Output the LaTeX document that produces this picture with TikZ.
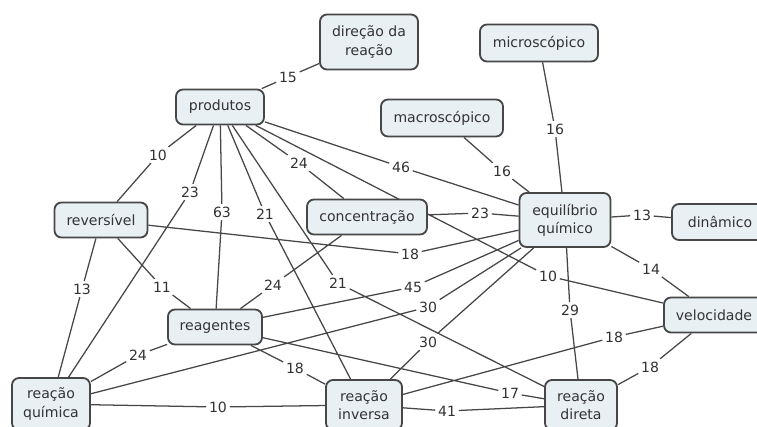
\documentclass[tikz,border=0pt]{standalone}
\usepackage{fontspec}
\setmainfont{DejaVu Sans}
\usepackage{xcolor}
\usepackage{tikz}
\usetikzlibrary{backgrounds}

\definecolor{boxfill}{HTML}{E9F0F4}
\definecolor{boxline}{HTML}{474747}
\definecolor{ink}{HTML}{333333}

\begin{document}
\begin{tikzpicture}[x=0.025cm, y=-0.025cm,
  concept/.style={rectangle, rounded corners=5pt, draw=boxline, line width=1.3pt,
    fill=boxfill, text=ink, align=center, inner sep=0pt,
    font=\fontsize{10}{13}\selectfont},
  link/.style={fill=white, text=ink, inner sep=1.8pt, font=\fontsize{10}{12}\selectfont},
  edge/.style={draw=boxline, line width=0.9pt}]
  \useasboundingbox (0,0) rectangle (757,427);
  \clip (0,0) rectangle (757,427);

  % concepts
  \node[concept, minimum width=2.45cm, minimum height=1.375cm] (dir) at (369,42) {direção da\\reação};
  \node[concept, minimum width=2.95cm, minimum height=0.925cm] (micro) at (539,43) {microscópico};
  \node[concept, minimum width=2.2cm, minimum height=0.875cm] (prod) at (220,107) {produtos};
  \node[concept, minimum width=3.05cm, minimum height=0.925cm] (macro) at (442,118) {macroscópico};
  \node[concept, minimum width=2.325cm, minimum height=0.875cm] (rev) at (101,220) {reversível};
  \node[concept, minimum width=3.0cm, minimum height=0.875cm] (conc) at (367,217) {concentração};
  \node[concept, minimum width=2.275cm, minimum height=1.35cm] (eq) at (565,220) {equilíbrio\\químico};
  \node[concept, minimum width=2.4cm, minimum height=0.9cm] (din) at (720,222) {dinâmico};
  \node[concept, minimum width=2.5cm, minimum height=0.875cm] (vel) at (714,315) {velocidade};
  \node[concept, minimum width=2.35cm, minimum height=0.875cm] (reag) at (215,327) {reagentes};
  \node[concept, minimum width=1.95cm, minimum height=1.3cm] (rq) at (51,404) {reação\\química};
  \node[concept, minimum width=1.9cm, minimum height=1.25cm] (ri) at (364,405) {reação\\inversa};
  \node[concept, minimum width=1.8cm, minimum height=1.25cm] (rd) at (581,405) {reação\\direta};

  % linking numbers
  \node[link] (n15) at (288,77) {15};
  \node[link] (n10a) at (158,155) {10};
  \node[link] (n23a) at (190,192) {23};
  \node[link] (n63) at (222,212) {63};
  \node[link] (n21a) at (265,214) {21};
  \node[link] (n21b) at (338,283) {21};
  \node[link] (n24a) at (299,163) {24};
  \node[link] (n10b) at (548,276) {10};
  \node[link] (n46) at (401,167) {46};
  \node[link] (n16a) at (502,171) {16};
  \node[link] (n16b) at (555,129) {16};
  \node[link] (n23b) at (480,213) {23};
  \node[link] (n13a) at (642,215) {13};
  \node[link] (n14) at (651,269) {14};
  \node[link] (n29) at (570,310) {29};
  \node[link] (n18a) at (410,254) {18};
  \node[link] (n13b) at (82,289) {13};
  \node[link] (n11) at (162,287) {11};
  \node[link] (n24b) at (273,285) {24};
  \node[link] (n45) at (413,287) {45};
  \node[link] (n30a) at (428,307) {30};
  \node[link] (n30b) at (428,342) {30};
  \node[link] (n24c) at (138,355) {24};
  \node[link] (n18b) at (295,368) {18};
  \node[link] (n17) at (510,393) {17};
  \node[link] (n10c) at (218,407) {10};
  \node[link] (n41) at (447,411) {41};
  \node[link] (n18c) at (614,337) {18};
  \node[link] (n18d) at (650,367) {18};

  \begin{pgfonlayer}{background}
  \draw[edge] (prod) -- (n15) -- (dir)
              (prod) -- (n10a) -- (rev)
              (prod) -- (n23a) -- (rq)
              (prod) -- (n63) -- (reag)
              (prod) -- (n21a) -- (ri)
              (prod) -- (n21b) -- (rd)
              (prod) -- (n24a) -- (conc)
              (prod) -- (n10b) -- (vel)
              (prod) -- (n46) -- (eq)
              (macro) -- (n16a) -- (eq)
              (micro) -- (n16b) -- (eq)
              (conc) -- (n23b) -- (eq)
              (eq) -- (n13a) -- (din)
              (eq) -- (n14) -- (vel)
              (eq) -- (n29) -- (rd)
              (rev) -- (n18a) -- (eq)
              (rev) -- (n13b) -- (rq)
              (rev) -- (n11) -- (reag)
              (conc) -- (n24b) -- (reag)
              (reag) -- (n45) -- (eq)
              (rq) -- (n30a) -- (eq)
              (ri) -- (n30b) -- (eq)
              (reag) -- (n24c) -- (rq)
              (reag) -- (n18b) -- (ri)
              (reag) -- (n17) -- (rd)
              (rq) -- (n10c) -- (ri)
              (ri) -- (n41) -- (rd)
              (ri) -- (n18c) -- (vel)
              (vel) -- (n18d) -- (rd);
  \end{pgfonlayer}
\end{tikzpicture}
\end{document}
